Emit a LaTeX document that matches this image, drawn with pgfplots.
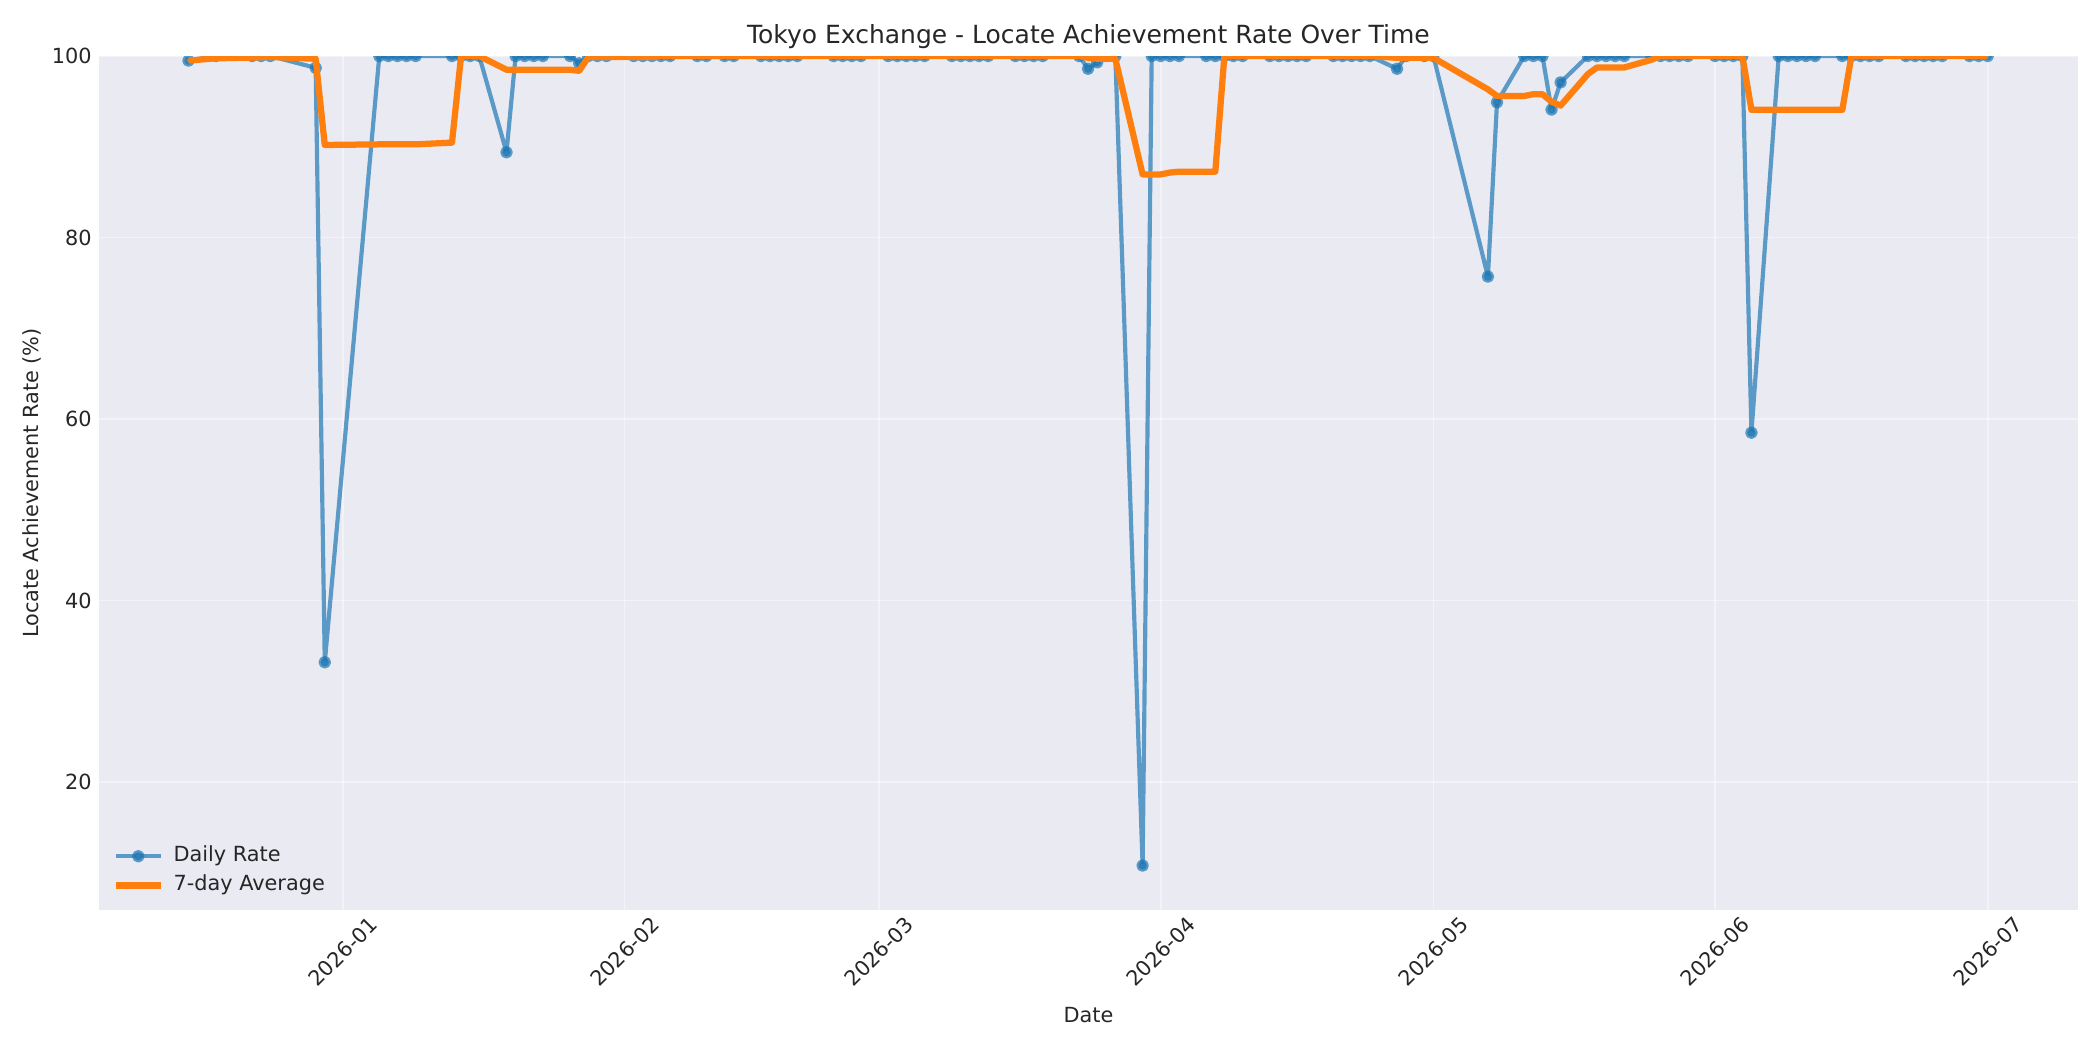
\documentclass[border=0pt]{standalone}
\usepackage{fontspec}
\setmainfont{DejaVu Sans}
\usepackage{pgfplots}
\usepackage{pgfplotstable}
\pgfplotsset{compat=1.18}

\definecolor{panel}{RGB}{234,234,242}
\definecolor{ink}{RGB}{38,38,38}
\definecolor{dailyblue}{RGB}{31,119,180}
\definecolor{avgorange}{RGB}{255,127,14}

% day = days since 2026-01-01 (Tokyo business days), rate = daily %, avg7 = 7-point rolling mean
\pgfplotstableread{
day rate avg7
-17 99.5 99.5
-14 100 99.75
-10 100 99.83
-9 100 99.88
-8 100 99.9
-3 98.7 99.7
-2 33.2 90.2
4 100 90.27
5 100 90.27
6 100 90.27
7 100 90.27
8 100 90.27
12 100 90.46
13 100 100
14 100 100
15 100 100
18 89.4 98.49
19 100 98.49
20 100 98.49
21 100 98.49
22 100 98.49
25 100 98.49
26 99.2 98.37
27 100 99.89
28 100 99.89
29 100 99.89
32 100 99.89
33 100 99.89
34 100 99.89
35 100 100
36 100 100
39 100 100
40 100 100
42 100 100
43 100 100
46 100 100
47 100 100
48 100 100
49 100 100
50 100 100
54 100 100
55 100 100
56 100 100
57 100 100
60 100 100
61 100 100
62 100 100
63 100 100
64 100 100
67 100 100
68 100 100
69 100 100
70 100 100
71 100 100
74 100 100
75 100 100
76 100 100
77 100 100
81 100 100
82 98.6 99.8
83 99.3 99.7
84 100 99.7
85 100 99.7
88 10.8 86.96
89 100 86.96
90 100 86.96
91 100 87.16
92 100 87.26
95 100 87.26
96 100 87.26
97 100 100
98 100 100
99 100 100
102 100 100
103 100 100
104 100 100
105 100 100
106 100 100
109 100 100
110 100 100
111 100 100
112 100 100
113 100 100
116 98.6 99.8
117 100 99.8
119 100 99.8
120 100 99.8
126 75.7 96.33
127 94.9 95.6
130 100 95.6
131 100 95.8
132 100 95.8
133 94.1 94.96
134 97.1 94.54
137 100 98.01
138 100 98.74
139 100 98.74
140 100 98.74
141 100 98.74
144 100 99.59
145 100 100
146 100 100
147 100 100
148 100 100
151 100 100
152 100 100
153 100 100
154 100 100
155 58.5 94.07
158 100 94.07
159 100 94.07
160 100 94.07
161 100 94.07
162 100 94.07
165 100 94.07
166 100 100
167 100 100
168 100 100
169 100 100
172 100 100
173 100 100
174 100 100
175 100 100
176 100 100
179 100 100
180 100 100
181 100 100
}\chartdata

\begin{document}
\begin{tikzpicture}
\path[use as bounding box] (-47.5pt,-67.2pt) rectangle (960.5pt,436.8pt);
\begin{axis}[
  at={(0pt,0pt)}, anchor=south west,
  scale only axis, width=949.9pt, height=409.9pt,
  xmin=-26.85, xmax=190.93, ymin=5.9, ymax=100,
  axis background/.style={fill=panel},
  axis line style={draw=none},
  major tick length=0pt,
  xtick={0,31,59,90,120,151,181},
  xticklabels={2026-01,2026-02,2026-03,2026-04,2026-05,2026-06,2026-07},
  ytick={20,40,60,80,100},
  grid=major,
  major grid style={white, opacity=0.45, line width=0.8pt},
  tick label style={font=\fontsize{10}{12}\selectfont, text=ink},
  /pgf/number format/assume math mode=true,
  xticklabel style={rotate=45, anchor=center},
  xticklabel shift=20pt,
  title={Tokyo Exchange - Locate Achievement Rate Over Time},
  title style={at={(axis description cs:0.5,1)}, anchor=base, yshift=0pt,
    font=\fontsize{12}{14}\selectfont, text=ink},
  xlabel={Date},
  xlabel style={at={(axis description cs:0.5,-0.1225)}, anchor=center,
    font=\fontsize{10}{12}\selectfont, text=ink},
  ylabel={Locate Achievement Rate (\%)},
  ylabel style={at={(axis description cs:-0.0339,0.5)}, anchor=center,
    font=\fontsize{10}{12}\selectfont, text=ink},
  clip marker paths=true,
  legend cell align=left,
  legend style={at={(axis description cs:0,0)}, anchor=south west,
    xshift=6.6pt, yshift=4.8pt, draw=none, fill=none,
    inner sep=0pt, outer sep=0pt, column sep=2.6pt,
    font=\fontsize{10}{12}\selectfont, text=ink,
    nodes={inner sep=2pt, text height=7.6pt, text depth=2.4pt}},
  legend image code/.code={
    \draw[mark repeat=2, mark phase=2, #1]
      plot coordinates {(0pt,0pt) (10.8pt,0pt) (21.6pt,0pt)};},
]
\addplot[color=dailyblue, opacity=0.7, line width=2pt, line join=round,
  mark=*, mark size=2pt, mark options={solid}]
  table[x=day, y=rate] {\chartdata};
\addlegendentry{Daily Rate}
\addplot[color=avgorange, line width=3pt, line join=round, no markers]
  table[x=day, y=avg7] {\chartdata};
\addlegendentry{7-day Average}
\end{axis}
\end{tikzpicture}
\end{document}
